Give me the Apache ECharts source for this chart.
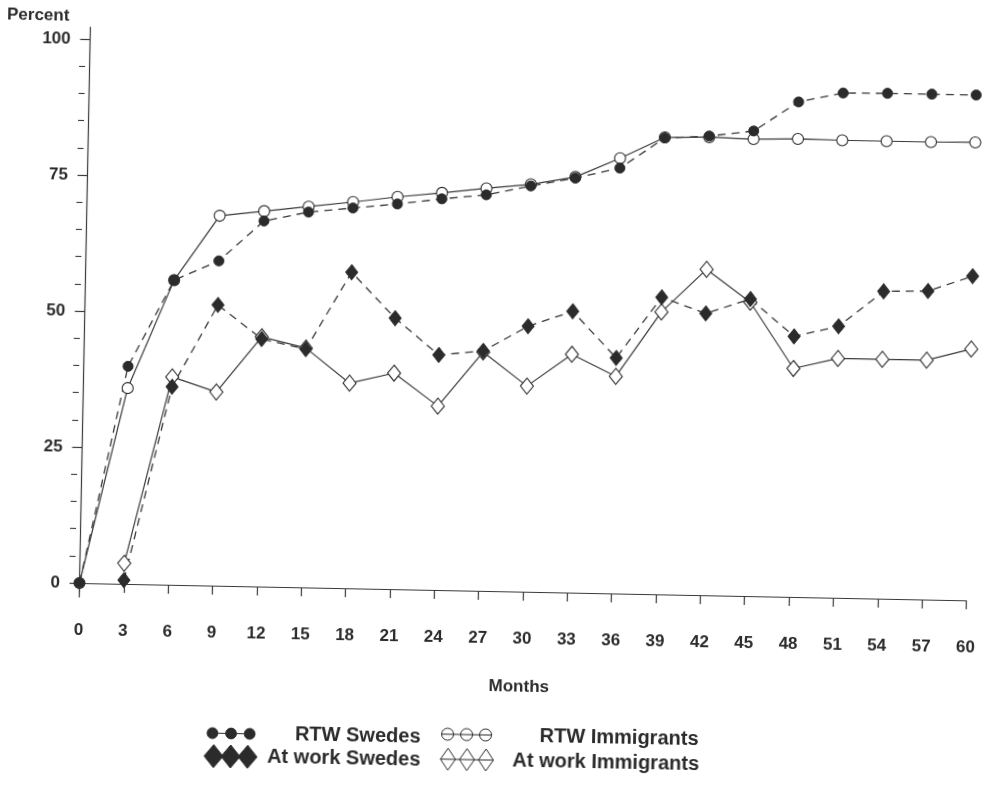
<!DOCTYPE html>
<html>
<head>
<meta charset="utf-8">
<script src="https://cdn.jsdelivr.net/npm/echarts@6/dist/echarts.min.js"></script>
<style>
  html, body { margin: 0; padding: 0; background: #fff; overflow: hidden; width: 987px; height: 786px; }
  /* The printed figure sits slightly askew on the page */
  #chart { position: absolute; left: -30px; top: -30px; width: 1047px; height: 846px;
           transform: rotate(1.12deg); transform-origin: 109.5px 613px; }
</style>
</head>
<body>
<div id="chart"></div>
<script>
// Follow-up months
const months = [0, 3, 6, 9, 12, 15, 18, 21, 24, 27, 30, 33, 36, 39, 42, 45, 48, 51, 54, 57, 60];
const atWorkMonths = [3, 6, 9, 12, 15, 18, 21, 24, 27, 30, 33, 36, 39, 42, 45, 48, 51, 54, 57, 60];

// Percent returned to work (cumulative)
const rtwSwedes     = [0, 40.0, 56.0, 59.7, 67.2, 69.0, 69.9, 70.8, 71.9, 72.8, 74.6, 76.2, 78.2, 83.9, 84.4, 85.5, 91.0, 92.8, 92.9, 92.9, 92.9];
const rtwImmigrants = [0, 36.0, 56.0, 68.0, 69.0, 70.0, 71.0, 72.1, 73.0, 74.0, 74.9, 76.4, 80.0, 84.0, 84.2, 84.0, 84.2, 84.1, 84.1, 84.1, 84.2];

// Percent at work at each follow-up
const atWorkSwedes     = [0.7, 36.4, 51.6, 45.5, 43.8, 58.1, 49.8, 43.2, 44.1, 48.8, 51.7, 43.3, 54.6, 51.8, 54.6, 47.9, 49.9, 56.5, 56.7, 59.6];
const atWorkImmigrants = [3.8, 38.2, 35.6, 45.9, 44.0, 37.7, 39.7, 33.8, 43.9, 37.8, 43.8, 39.9, 51.9, 59.9, 54.0, 42.0, 44.0, 44.0, 44.0, 46.2];

// Axis ticks
const xTicks = months;
const yTicks = [0, 25, 50, 75, 100];
const yMinorTicks = [5, 10, 15, 20, 30, 35, 40, 45, 55, 60, 65, 70, 80, 85, 90, 95];

const ink = '#2b2b2b';
const lineInk = '#3a3a3a';
const font = '"Liberation Sans", Arial, Helvetica, sans-serif';

const pairs = (xs, ys) => xs.map((x, i) => [x, ys[i]]);

// Legend icons: three markers joined by a line
const iconCirclesFilled = 'path://M0,5.4a5.4,5.4 0 1,0 10.8,0a5.4,5.4 0 1,0 -10.8,0Z M18.6,5.4a5.4,5.4 0 1,0 10.8,0a5.4,5.4 0 1,0 -10.8,0Z M37.2,5.4a5.4,5.4 0 1,0 10.8,0a5.4,5.4 0 1,0 -10.8,0Z M10.8,5.4L18.6,5.4 M29.4,5.4L37.2,5.4';
const iconCirclesOpen = 'path://M0,6a6,6 0 1,0 12,0a6,6 0 1,0 -12,0Z M19,6a6,6 0 1,0 12,0a6,6 0 1,0 -12,0Z M38,6a6,6 0 1,0 12,0a6,6 0 1,0 -12,0Z M0,6L50,6';
const iconDiamondsFilled = 'path://M9.5,0L19,11.5L9.5,23L0,11.5Z M26.5,0L36,11.5L26.5,23L17,11.5Z M43.5,0L53,11.5L43.5,23L34,11.5Z';
const iconDiamondsOpen = 'path://M7.5,0L15,11L7.5,22L0,11Z M26.5,0L34,11L26.5,22L19,11Z M45.5,0L53,11L45.5,22L38,11Z M0,11L53,11';

function legendItem(name, icon, filled, left, top, w, h, textWidth) {
  return {
    data: [{
      name: name, icon: icon,
      itemStyle: { color: filled ? ink : '#fff', borderColor: ink, borderWidth: 1 }
    }],
    left: left, top: top, padding: 0,
    itemWidth: w, itemHeight: h,
    selectedMode: false,
    formatter: n => '{t|' + n + '}',
    textStyle: {
      rich: { t: { width: textWidth, align: 'right', fontSize: 20, fontWeight: 'bold', color: ink, fontFamily: font } }
    }
  };
}

const chart = echarts.init(document.getElementById('chart'), null, { renderer: 'canvas' });

const axisText = { fontSize: 17, fontWeight: 'bold', color: ink, fontFamily: font };

chart.setOption({
  animation: false,
  backgroundColor: '#fff',
  textStyle: { fontFamily: font },
  title: {
    text: 'Percent', left: 26, top: 38, padding: 0,
    textStyle: { fontSize: 17, fontWeight: 'bold', color: ink, fontFamily: font }
  },
  grid: { left: 105, right: 50.5, top: 57, bottom: 219, containLabel: false, outerBoundsMode: 'none' },
  xAxis: {
    type: 'value', min: -0.304, max: 60,
    name: 'Months', nameLocation: 'middle', nameGap: 73,
    nameTextStyle: axisText,
    axisLine: { show: true, lineStyle: { color: lineInk, width: 1.2 } },
    axisTick: { show: true, customValues: xTicks, length: 9, lineStyle: { color: lineInk, width: 1.2 } },
    axisLabel: Object.assign({ show: true, customValues: xTicks, margin: 25 }, axisText),
    splitLine: { show: false }
  },
  yAxis: [
    {
      type: 'value', position: 'left', min: -2.574, max: 102.206,
      axisLine: { show: true, lineStyle: { color: lineInk, width: 1.2 } },
      axisTick: { show: true, customValues: yTicks, length: 10, lineStyle: { color: lineInk, width: 1.2 } },
      axisLabel: Object.assign({ show: true, customValues: yTicks, margin: 15 }, axisText),
      splitLine: { show: false }
    },
    {
      // minor ticks every 5 percent
      type: 'value', position: 'left', offset: 0, min: -2.574, max: 102.206,
      axisLine: { show: false },
      axisTick: { show: true, customValues: yMinorTicks, length: 6, lineStyle: { color: lineInk, width: 1.1 } },
      axisLabel: { show: false },
      splitLine: { show: false }
    }
  ],
  legend: [
    legendItem('RTW Swedes', iconCirclesFilled, true, 239.5, 750.5, 48, 10.8, 160.5),
    legendItem('At work Swedes', iconDiamondsFilled, true, 236.9, 771.5, 53, 23, 158.4),
    legendItem('RTW Immigrants', iconCirclesOpen, false, 474, 747, 50, 12, 202),
    legendItem('At work Immigrants', iconDiamondsOpen, false, 473.3, 770.5, 53, 22, 200.7)
  ],
  series: [
    {
      name: 'RTW Immigrants', type: 'line', data: pairs(months, rtwImmigrants),
      symbol: 'circle', symbolSize: 11, showAllSymbol: true, clip: false,
      itemStyle: { color: '#fff', borderColor: ink, borderWidth: 1.1 },
      lineStyle: { color: lineInk, width: 1.2, type: 'solid' }
    },
    {
      name: 'At work Immigrants', type: 'line', data: pairs(atWorkMonths, atWorkImmigrants),
      symbol: 'diamond', symbolSize: [13, 16], showAllSymbol: true, clip: false,
      itemStyle: { color: '#fff', borderColor: ink, borderWidth: 1.1 },
      lineStyle: { color: lineInk, width: 1.2, type: 'solid' }
    },
    {
      name: 'RTW Swedes', type: 'line', data: pairs(months, rtwSwedes),
      symbol: 'circle', symbolSize: 10, showAllSymbol: true, clip: false,
      itemStyle: { color: ink, borderColor: ink, borderWidth: 1 },
      lineStyle: { color: lineInk, width: 1.3, type: [8, 6] }
    },
    {
      name: 'At work Swedes', type: 'line', data: pairs(atWorkMonths, atWorkSwedes),
      symbol: 'diamond', symbolSize: [12, 15], showAllSymbol: true, clip: false,
      itemStyle: { color: ink, borderColor: ink, borderWidth: 1 },
      lineStyle: { color: lineInk, width: 1.3, type: [8, 6] }
    }
  ]
});
</script>
</body>
</html>
